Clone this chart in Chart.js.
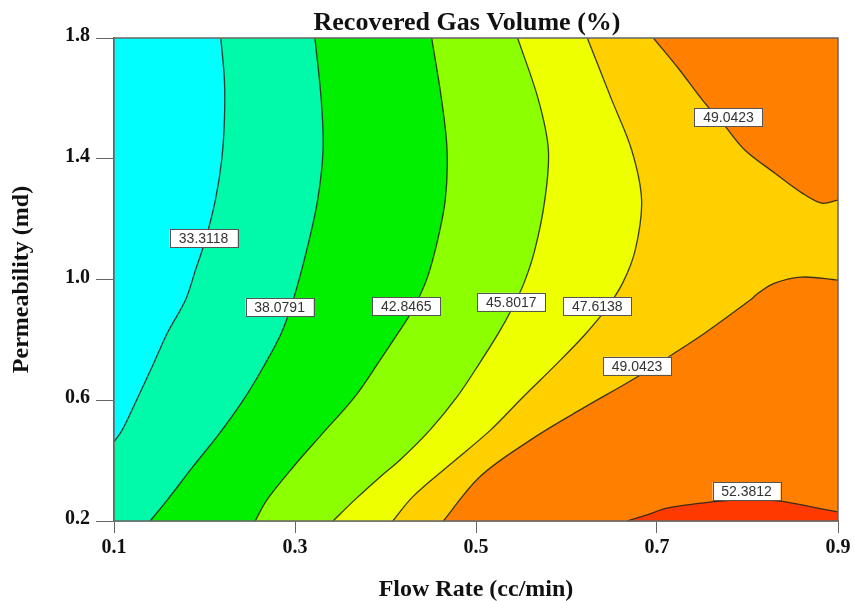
<!DOCTYPE html>
<html>
<head>
<meta charset="utf-8">
<script src="https://cdn.jsdelivr.net/npm/chart.js@4.4.1/dist/chart.umd.min.js"></script>
<style>
  html, body { margin: 0; padding: 0; background: #fff; }
  #wrap { width: 855px; height: 601px; position: relative; }
</style>
</head>
<body>
<div id="wrap"><canvas id="chart"></canvas></div>
<script>
const xTicks = [0.1, 0.3, 0.5, 0.7, 0.9];
const yTicks = [0.2, 0.6, 1.0, 1.4, 1.8];

// contour lines, as [flow rate, permeability]
const line33 = [[0.218, 1.8], [0.222, 1.661], [0.222, 1.528], [0.219, 1.396], [0.212, 1.263],
  [0.201, 1.131], [0.190, 1.031], [0.179, 0.932], [0.159, 0.823], [0.142, 0.710],
  [0.125, 0.601], [0.109, 0.501], [0.1, 0.462]];
const line38 = [[0.322, 1.8], [0.329, 1.595], [0.331, 1.429], [0.325, 1.263], [0.313, 1.098],
  [0.298, 0.932], [0.285, 0.823], [0.265, 0.710], [0.243, 0.601],
  [0.217, 0.492], [0.187, 0.379], [0.159, 0.270], [0.140, 0.2]];
const line428 = [[0.451, 1.8], [0.462, 1.595], [0.468, 1.429], [0.466, 1.263], [0.455, 1.098],
  [0.444, 0.988], [0.428, 0.889], [0.414, 0.823], [0.394, 0.733], [0.366, 0.611],
  [0.331, 0.492], [0.298, 0.379], [0.269, 0.270], [0.256, 0.2]];
const line458 = [[0.546, 1.8], [0.569, 1.595], [0.580, 1.429], [0.576, 1.263], [0.565, 1.098],
  [0.553, 0.988], [0.539, 0.899], [0.525, 0.823], [0.504, 0.723], [0.479, 0.611],
  [0.449, 0.501], [0.416, 0.402], [0.394, 0.346], [0.366, 0.270], [0.342, 0.2]];
const line476 = [[0.623, 1.8], [0.650, 1.595], [0.672, 1.429], [0.683, 1.263], [0.676, 1.098],
  [0.662, 0.988], [0.643, 0.899], [0.620, 0.816], [0.590, 0.723], [0.552, 0.611],
  [0.516, 0.501], [0.468, 0.379], [0.430, 0.280], [0.408, 0.2]];
const line49a = [[0.696, 1.8], [0.725, 1.694], [0.750, 1.595], [0.774, 1.512], [0.797, 1.429],
  [0.830, 1.353], [0.860, 1.287], [0.882, 1.253], [0.9, 1.263]];
const line49b = [[0.9, 0.998], [0.860, 1.008], [0.830, 0.988], [0.812, 0.955], [0.803, 0.932],
  [0.753, 0.823], [0.716, 0.750], [0.678, 0.677], [0.615, 0.568],
  [0.560, 0.468], [0.504, 0.346], [0.464, 0.2]];
const line52 = [[0.667, 0.2], [0.689, 0.220], [0.711, 0.243], [0.770, 0.266], [0.803, 0.270],
  [0.836, 0.266], [0.872, 0.246], [0.9, 0.230]];

// contour level labels
const levelText = ['33.3118', '38.0791', '42.8465', '45.8017', '47.6138', '49.0423', '49.0423', '52.3812'];
const levelX = [0.199, 0.283, 0.423, 0.539, 0.634, 0.779, 0.678, 0.799];
const levelY = [1.136, 0.909, 0.912, 0.926, 0.912, 1.537, 0.714, 0.299];

const X0 = 0.1, X1 = 0.9, Y0 = 0.2, Y1 = 1.8;
const TL = [X0, Y1], BL = [X0, Y0], BR = [X1, Y0];
const TENSION = 0.35;
const pts = arr => arr.map(p => ({x: p[0], y: p[1]}));
// doubled end points keep the band corners sharp while the curve stays smooth
const seg = l => [l[0], ...l, l[l.length - 1]];

// filled bands, bottom layer first
const bands = [
  {poly: [[X0, Y0], [X0, Y1], [X1, Y1], [X1, Y0]], color: '#FF7F00', tension: 0},
  {poly: [TL, TL, ...seg(line49a), ...seg(line49b), BL, BL], color: '#FFD000'},
  {poly: [TL, TL, ...seg(line476), BL, BL], color: '#EEFF00'},
  {poly: [TL, TL, ...seg(line458), BL, BL], color: '#8CFF00'},
  {poly: [TL, TL, ...seg(line428), BL, BL], color: '#00F000'},
  {poly: [TL, TL, ...seg(line38), BL, BL], color: '#00FAAA'},
  {poly: [TL, TL, ...seg(line33)], color: '#00FFFF'},
  {poly: [...seg(line52), BR, BR], color: '#FF3A00'},
];
const lines = [line33, line38, line428, line458, line476, line49a, line49b, line52];

const datasets = [];
bands.forEach((b, i) => {
  datasets.push({
    data: pts(b.poly), backgroundColor: b.color, borderWidth: 0,
    fill: 'shape', pointRadius: 0,
    tension: b.tension === undefined ? TENSION : b.tension, order: 100 - i
  });
});
lines.forEach(l => {
  datasets.push({
    data: pts(l), borderColor: 'rgba(40,40,30,0.9)', borderWidth: 1.3,
    fill: false, pointRadius: 0, tension: TENSION, order: 1
  });
});

const serif = 'Liberation Serif';

const decor = {
  id: 'decor',
  afterDatasetsDraw(chart) {
    const {ctx, chartArea: a, scales: {x, y}} = chart;
    ctx.save();
    ctx.strokeStyle = '#666';
    ctx.lineWidth = 1.5;
    ctx.strokeRect(a.left, a.top, a.right - a.left, a.bottom - a.top);

    ctx.font = '14px "Liberation Sans"';
    ctx.textAlign = 'center';
    ctx.textBaseline = 'middle';
    levelText.forEach((t, i) => {
      const px = x.getPixelForValue(levelX[i]);
      const py = y.getPixelForValue(levelY[i]);
      ctx.fillStyle = '#fff';
      ctx.fillRect(px - 34, py - 9, 68, 18);
      ctx.strokeStyle = '#555';
      ctx.lineWidth = 1;
      ctx.strokeRect(Math.round(px - 34) + 0.5, Math.round(py - 9) + 0.5, 68, 18);
      ctx.fillStyle = '#333';
      ctx.fillText(t, px, py + 1);
    });

    ctx.font = 'bold 26px "' + serif + '"';
    ctx.fillStyle = '#111';
    ctx.textBaseline = 'alphabetic';
    ctx.fillText('Recovered Gas Volume (%)', 467, 30);
    ctx.restore();
  }
};

new Chart(document.getElementById('chart'), {
  type: 'line',
  data: {datasets},
  options: {
    responsive: true,
    maintainAspectRatio: false,
    animation: false,
    events: [],
    layout: {padding: {top: 38, right: 17, bottom: 0, left: 0}},
    plugins: {legend: {display: false}, tooltip: {enabled: false}, title: {display: false}},
    scales: {
      x: {
        type: 'linear', min: X0, max: X1,
        afterBuildTicks: s => { s.ticks = xTicks.map(v => ({value: v})); },
        afterFit: s => { s.height = 80; },
        ticks: {
          callback: v => v.toFixed(1), padding: 3, color: '#111',
          font: {family: serif, size: 20, weight: 'bold'}
        },
        grid: {drawOnChartArea: false, tickLength: 12, color: '#666'},
        border: {color: '#666', width: 1.5},
        title: {
          display: true, text: 'Flow Rate (cc/min)', color: '#111',
          font: {family: serif, size: 24, weight: 'bold', lineHeight: 0.9},
          padding: {top: 0, bottom: 0}
        }
      },
      y: {
        type: 'linear', min: Y0, max: Y1,
        afterBuildTicks: s => { s.ticks = yTicks.map(v => ({value: v})); },
        afterFit: s => { s.width = 114; },
        ticks: {
          callback: v => v.toFixed(1), padding: 6, color: '#111', labelOffset: -2,
          font: {family: serif, size: 20, weight: 'bold'}
        },
        grid: {drawOnChartArea: false, tickLength: 18, color: '#666'},
        border: {color: '#666', width: 1.5},
        title: {
          display: true, text: 'Permeability (md)', color: '#111',
          font: {family: serif, size: 24, weight: 'bold'},
          padding: {top: 7, bottom: 0}
        }
      }
    }
  },
  plugins: [decor]
});
</script>
</body>
</html>
